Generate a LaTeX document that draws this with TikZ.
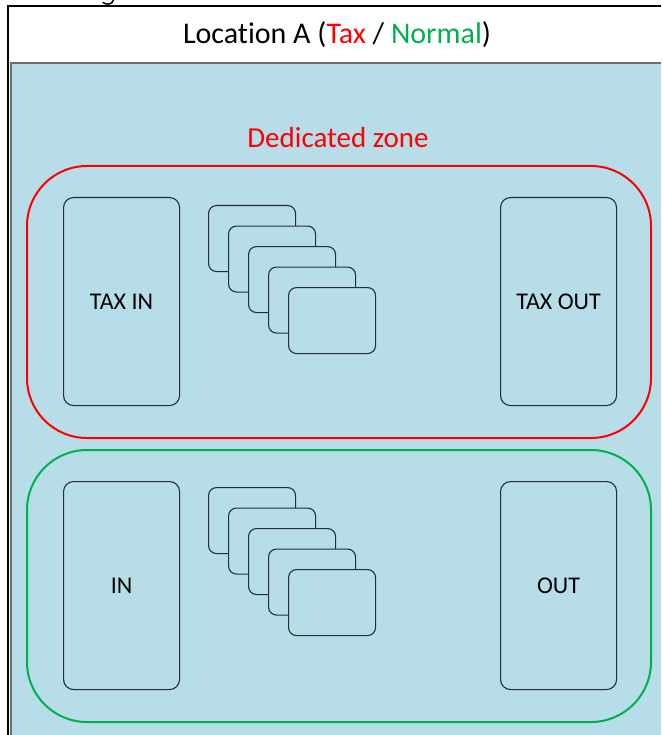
\documentclass[tikz,border=0pt]{standalone}
\usepackage{fontspec}
\setmainfont{Carlito}[Ligatures=NoCommon]
\definecolor{zonefill}{HTML}{B7DDE8}
\definecolor{taxred}{HTML}{FF0000}
\definecolor{normalgreen}{HTML}{00B050}
\definecolor{frameline}{HTML}{6E6E6E}
\definecolor{boxline}{HTML}{262E33}
\begin{document}
\begin{tikzpicture}[x=1pt,y=-1pt,
  zonebox/.style={draw, line width=2pt, rounded corners=60pt, minimum width=624pt,
    minimum height=272pt, anchor=north west, inner sep=0pt},
  bay/.style={draw=boxline, line width=1.1pt, rounded corners=10pt, fill=zonefill,
    minimum width=116pt, minimum height=208pt, anchor=north west, inner sep=0pt,
    font=\fontsize{24}{28}\selectfont},
  card/.style={draw=boxline, line width=1.1pt, rounded corners=8pt, fill=zonefill,
    minimum width=87pt, minimum height=66pt, anchor=north west, inner sep=0pt}]
\useasboundingbox (0,0) rectangle (661,735);
\fill[white] (0,0) rectangle (661,735);

% outer frame and title strip
\draw[line width=2pt] (8,735) -- (8,6) -- (661,6);
\draw[line width=1.5pt, line cap=round] (103,2.5) .. controls (106,5) and (112,5) .. (113.5,0);
\fill[zonefill] (11,63) rectangle (661,735);
\draw[frameline, line width=2pt] (11,735) -- (11,63) -- (661,63);

\node[font=\fontsize{30}{36}\selectfont] (title) at (337,35)
  {Location A (\textcolor{taxred}{Tax} / \textcolor{normalgreen}{Normal})};

% dedicated (tax) zone
\node[text=taxred, font=\fontsize{29}{34}\selectfont] (dzlabel) at (338,138) {Dedicated zone};
\node[zonebox, draw=taxred] (taxzone) at (26,165) {};
\node[bay] (taxin) at (63,197) {TAX IN};
\node[bay] (taxout) at (500,197) {TAX OUT};
\foreach \i in {0,...,4}
  \node[card] (taxcard\i) at ({208+20*\i},{205+20.5*\i}) {};

% normal zone
\node[zonebox, draw=normalgreen] (normzone) at (26,449) {};
\node[bay] (normin) at (63,481) {IN};
\node[bay] (normout) at (500,481) {OUT};
\foreach \i in {0,...,4}
  \node[card] (normcard\i) at ({208+20*\i},{487+20.5*\i}) {};
\end{tikzpicture}
\end{document}
